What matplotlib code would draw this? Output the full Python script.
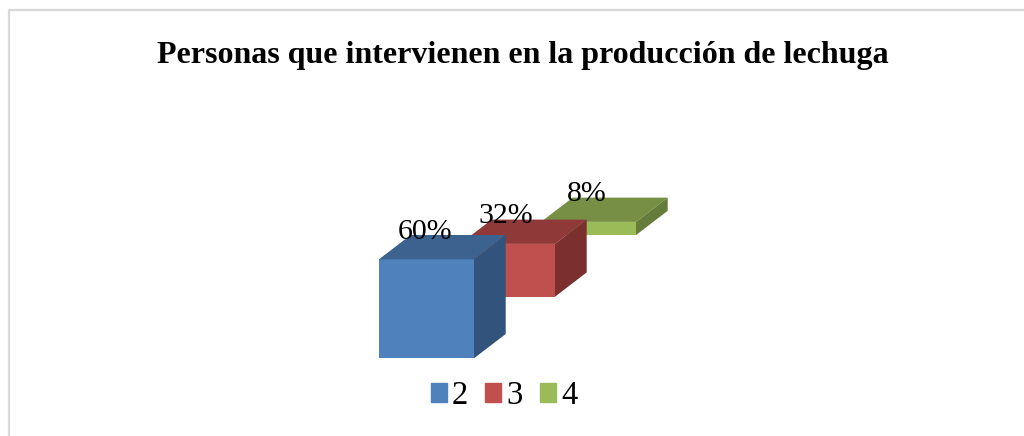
import matplotlib.pyplot as plt
from matplotlib.patches import Polygon, Rectangle
from matplotlib.lines import Line2D

plt.rcParams['font.family'] = ['Liberation Serif', 'DejaVu Serif']

title = "Personas que intervienen en la producción de lechuga"
categories = ['2', '3', '4']
values = [60, 32, 8]
labels = ['60%', '32%', '8%']

front_colors = ['#4F81BD', '#C0504D', '#9BBB59']
top_colors = ['#3C6390', '#8F3A38', '#778F44']
side_colors = ['#32537B', '#7B302E', '#667C3A']

# escala de la imagen: px por unidad
px_x = 81.0
px_y = 1.65
bar_w = 95 / px_x
depth_x = 31.7 / px_x
depth_y = 24.3 / px_y
step_y = 61.6 / px_y

fig = plt.figure(figsize=(10.24, 4.36), dpi=100)
ax = fig.add_axes([0, 0, 1, 1])
ax.set_xlim(-426.5 / px_x, (1024 - 426.5) / px_x)
ax.set_ylim(-(436 - 358.3) / px_y, 358.3 / px_y)
ax.axis('off')

# marco del grafico: solo arriba y a la izquierda
fig.add_artist(Line2D([1, 9.3 / 1024, 9.3 / 1024], [1 - 10.5 / 436, 1 - 10.5 / 436, 0],
                      color='#D9D9D9', linewidth=1.6, transform=fig.transFigure))

for i, v in enumerate(values):
    x0 = i - bar_w / 2
    x1 = i + bar_w / 2
    b = i * step_y
    t = b + v
    ax.bar(i, v, width=bar_w, bottom=b, color=front_colors[i], zorder=10 - i)
    ax.add_patch(Polygon([(x0, t), (x1, t), (x1 + depth_x, t + depth_y), (x0 + depth_x, t + depth_y)],
                         closed=True, facecolor=top_colors[i], edgecolor='none', zorder=10 - i))
    ax.add_patch(Polygon([(x1, b), (x1 + depth_x, b + depth_y), (x1 + depth_x, t + depth_y), (x1, t)],
                         closed=True, facecolor=side_colors[i], edgecolor='none', zorder=10 - i))
    ax.text(i - 0.02, t + depth_y * 1.14, labels[i], ha='center', va='center', fontsize=21.5,
            color='black', zorder=20)

fig.text(523 / 1024, 1 - 55 / 436, title, ha='center', va='center', fontsize=23, fontweight='bold')

# leyenda
ax.legend([Rectangle((0, 0), 1, 1, color=c) for c in front_colors], categories, loc='center',
          bbox_to_anchor=(504 / 1024, 1 - 396 / 436), bbox_transform=fig.transFigure, ncol=3, frameon=False,
          fontsize=23.5, handlelength=0.49, handleheight=0.49, handletextpad=0.15, columnspacing=0.54,
          borderpad=0, borderaxespad=0)

fig.savefig('out.png', dpi=100)
